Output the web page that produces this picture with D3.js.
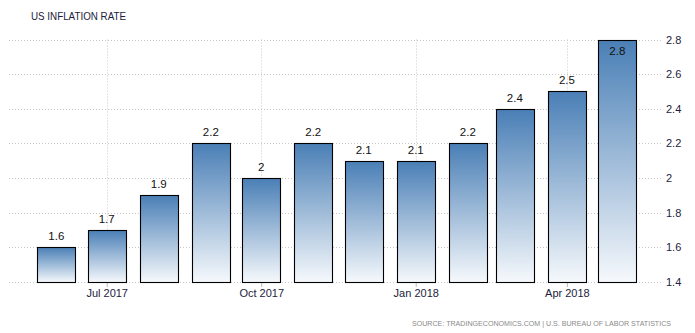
<!DOCTYPE html>
<html><head><meta charset="utf-8">
<script src="https://cdn.jsdelivr.net/npm/d3@7"></script>
<style>body{margin:0;background:#fff;} text{font-family:"Liberation Sans",Arial,sans-serif;}</style>
</head><body>
<svg id="c" width="695" height="333"></svg>
<script>
const months = ["2017-06","2017-07","2017-08","2017-09","2017-10","2017-11","2017-12","2018-01","2018-02","2018-03","2018-04","2018-05"];
const values = [1.6,1.7,1.9,2.2,2,2.2,2.1,2.1,2.2,2.4,2.5,2.8];
const yTicks = [1.4,1.6,1.8,2,2.2,2.4,2.6,2.8];
const xTickMonths = ["2017-07","2017-10","2018-01","2018-04"];
const title = "US INFLATION RATE";
const source = "SOURCE: TRADINGECONOMICS.COM | U.S.  BUREAU OF LABOR STATISTICS";

const parse = d3.timeParse("%Y-%m");
const svg = d3.select("#c");
const x = d3.scaleTime().domain([parse(months[0]), parse(months[months.length-1])]).range([56.3, 617.3]);
const y = d3.scaleLinear().domain([1.4, 2.8]).range([282, 39.5]);
const gridL = 9, gridR = 663;
const barW = 38;

const defs = svg.append("defs");
const g = defs.append("linearGradient").attr("id","bg").attr("x1",0).attr("y1",0).attr("x2",0).attr("y2",1);
g.append("stop").attr("offset","0%").attr("stop-color","#4a7fb6");
g.append("stop").attr("offset","100%").attr("stop-color","#f6f9fc");

svg.append("text").attr("x",31).attr("y",19.5).attr("font-size",11.5).attr("fill","#1c1c3c").attr("textLength",95).attr("lengthAdjust","spacingAndGlyphs").text(title);

// horizontal grid
svg.append("g").selectAll("line").data(yTicks).join("line")
  .attr("x1",gridL).attr("x2",gridR).attr("y1",d=>Math.round(y(d))+0.5).attr("y2",d=>Math.round(y(d))+0.5)
  .attr("stroke","#c8c8c8").attr("stroke-dasharray","1,2");
// vertical grid
svg.append("g").selectAll("line").data(xTickMonths).join("line")
  .attr("x1",d=>Math.round(x(parse(d)))+0.5).attr("x2",d=>Math.round(x(parse(d)))+0.5)
  .attr("y1",y(2.8)).attr("y2",y(1.4))
  .attr("stroke","#c8c8c8").attr("stroke-dasharray","1,2");

// x axis ticks
const xAxis = d3.axisBottom(x).tickValues(xTickMonths.map(parse)).tickFormat(d3.timeFormat("%b %Y")).tickSize(5).tickPadding(2);
const xa = svg.append("g").attr("transform",`translate(0,${y(1.4)})`).call(xAxis);
xa.select(".domain").remove();
xa.selectAll(".tick line").attr("stroke","#bbb");
xa.selectAll(".tick text").attr("font-size",11).attr("fill","#1c1c3c").attr("font-family","Liberation Sans, Arial, sans-serif");

// y axis labels
const yAxis = d3.axisRight(y).tickValues(yTicks).tickFormat(d3.format("")).tickSize(0).tickPadding(0);
const ya = svg.append("g").attr("transform",`translate(666,0)`).call(yAxis);
ya.select(".domain").remove();
ya.selectAll(".tick text").attr("font-size",11).attr("fill","#1c1c3c").attr("font-family","Liberation Sans, Arial, sans-serif");

// bars
const data = months.map((m,i)=>({date:parse(m), v:values[i]}));
svg.append("g").selectAll("rect").data(data).join("rect")
  .attr("x",d=>Math.round(x(d.date)-barW/2)+0.5).attr("width",barW)
  .attr("y",d=>Math.round(y(d.v))+0.5).attr("height",d=>Math.round(y(1.4))-Math.round(y(d.v)))
  .attr("fill","url(#bg)").attr("stroke","#000").attr("stroke-width",1.1);

svg.append("g").selectAll("text").data(data).join("text")
  .attr("x",d=>x(d.date)).attr("text-anchor","middle")
  .attr("y",d=>{const t=y(d.v); return t-25<20 ? t+15 : t-7;})
  .attr("font-size",11.5).attr("fill","#111")
  .text(d=>d.v);

svg.append("text").attr("x",671).attr("y",326).attr("text-anchor","end").attr("font-size",7.5).attr("fill","#8a8a8a").attr("textLength",259).attr("lengthAdjust","spacingAndGlyphs").text(source);
</script>
</body></html>
